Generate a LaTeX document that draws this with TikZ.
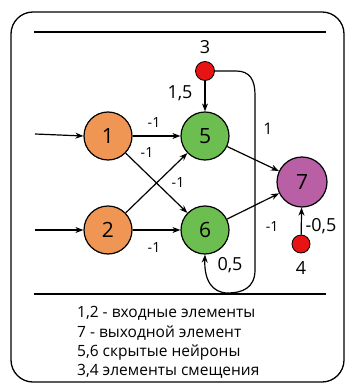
\documentclass[tikz,border=0pt]{standalone}
\usepackage{fontspec}
\setmainfont{Open Sans}
\usetikzlibrary{arrows.meta}
\definecolor{orng}{RGB}{240,150,85}
\definecolor{grn}{RGB}{108,190,80}
\definecolor{purp}{RGB}{185,95,165}
\definecolor{rd}{RGB}{232,20,20}
\begin{document}
\begin{tikzpicture}[x=1pt,y=-1pt,
  neuron/.style={circle, draw, line width=1.2pt, minimum size=48pt, inner sep=0pt, font=\fontsize{21}{21}\selectfont},
  bias/.style={circle, draw, line width=0.8pt, fill=rd, minimum size=19pt, inner sep=0pt},
  wl/.style={font=\fontsize{14}{14}\selectfont, inner sep=1pt},
  wlb/.style={font=\fontsize{18}{18}\selectfont, inner sep=1pt},
  conn/.style={line width=1.2pt, -{Stealth[length=8pt,width=6pt]}},
  legend/.style={font=\fontsize{15.5}{16}\selectfont, anchor=west, inner sep=0pt}]
\useasboundingbox (0,0) rectangle (348,387);
\draw[line width=1.3pt, rounded corners=22pt] (11,12) rectangle (344,382);
\coordinate (t1) at (34,32); \coordinate (t2) at (326,32);
\coordinate (b1) at (34,294); \coordinate (b2) at (326,294);
\draw[line width=1.3pt] (t1) -- (t2);
\draw[line width=1.3pt] (b1) -- (b2);
% neurons
\node[neuron, fill=orng] (n1) at (108,136) {1};
\node[neuron, fill=orng] (n2) at (108,230) {2};
\node[neuron, fill=grn] (n5) at (205,136) {5};
\node[neuron, fill=grn] (n6) at (205,230) {6};
\node[neuron, fill=purp, minimum size=50pt] (n7) at (302,182) {7};
\node[bias] (n3) at (205,71) {};
\node[bias, minimum size=18pt] (n4) at (301,244) {};
\node[wlb] (l3) at (205,47) {3};
\node[wlb] (l4) at (301,268) {4};
% inputs
\coordinate (i1) at (35,134);
\coordinate (i2) at (35,230);
\draw[conn] (i1) -- (n1.west);
\draw[conn] (i2) -- (n2.west);
% connections
\draw[conn] (n1) -- (n5);
\draw[conn] (n1) -- (n6);
\draw[conn] (n2) -- (n5);
\draw[conn] (n2) -- (n6);
\draw[conn] (n5) -- (n7);
\draw[conn] (n6) -- (n7);
\draw[conn] (n3) -- (n5);
\draw[conn] (n4) -- (n7);
\draw[conn] (n3.east) -- (236,71) .. controls (250,71) and (255,80) .. (255,95) -- (255,270) .. controls (255,288) and (242,293) .. (228,293) .. controls (212,293) and (204,280) .. (n6.south);
% weights
\node[wl] (w15) at (154,123) {-1};
\node[wl] (w16) at (147,153) {-1};
\node[wl] (w25) at (178,183) {-1};
\node[wl] (w26) at (154,248) {-1};
\node[wlb] (w35) at (180,93) {1,5};
\node[wl, font=\fontsize{16}{16}\selectfont] (w36a) at (268,129) {1};
\node[wlb] (w36b) at (230,265) {0,5};
\node[wl] (w67) at (272,227) {-1};
\node[wlb] (w47) at (321,226) {-0,5};
% legend
\node[legend] (g1) at (77,313) {1,2 - входные элементы};
\node[legend] (g2) at (77,333) {7 - выходной элемент};
\node[legend] (g3) at (77,352) {5,6 скрытые нейроны};
\node[legend] (g4) at (77,371) {3,4 элементы смещения};
\end{tikzpicture}
\end{document}
